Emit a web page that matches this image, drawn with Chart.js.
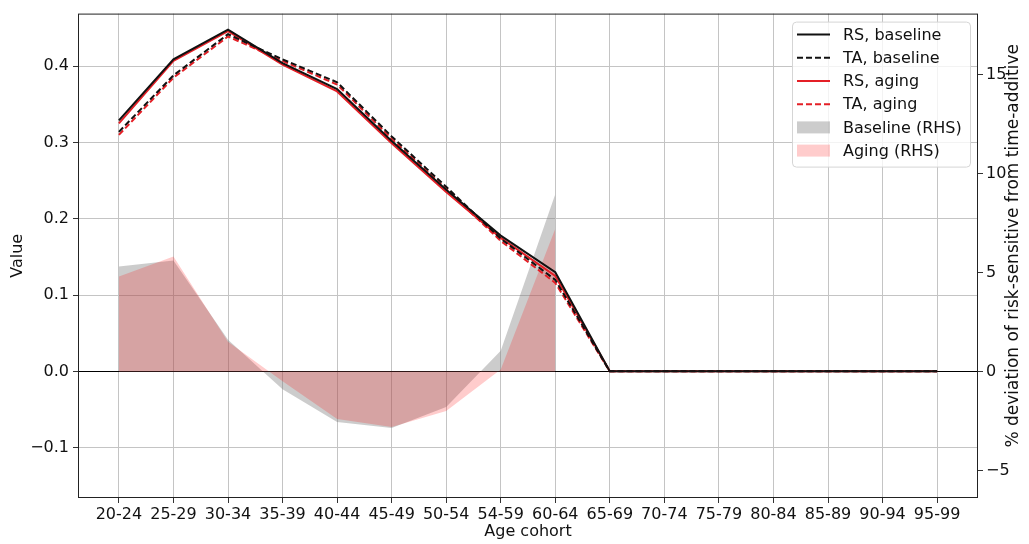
<!DOCTYPE html>
<html>
<head>
<meta charset="utf-8">
<script src="https://cdn.jsdelivr.net/npm/chart.js@4"></script>
<style>
  html, body { margin: 0; padding: 0; background: #fff; }
  #wrap { width: 1029px; height: 544px; }
</style>
</head>
<body>
<div id="wrap"><canvas id="myChart"></canvas></div>
<script>
// Data
const ageCohorts = ["20-24", "25-29", "30-34", "35-39", "40-44", "45-49", "50-54", "54-59",
  "60-64", "65-69", "70-74", "75-79", "80-84", "85-89", "90-94", "95-99"];
const rsBaseline = [0.329, 0.409, 0.448, 0.404, 0.370, 0.302, 0.238, 0.178, 0.130, 0, 0, 0, 0, 0, 0, 0];
const taBaseline = [0.314, 0.388, 0.442, 0.409, 0.379, 0.308, 0.242, 0.174, 0.120, 0, 0, 0, 0, 0, 0, 0];
const rsAging = [0.325, 0.407, 0.446, 0.402, 0.367, 0.299, 0.235, 0.175, 0.125, 0, 0, 0, 0, 0, 0, 0];
const taAging = [0.310, 0.385, 0.439, 0.407, 0.376, 0.305, 0.239, 0.171, 0.116, 0, 0, 0, 0, 0, 0, 0];
// % deviation of RS from TA (right axis), only up to 60-64
const devBaseline = [5.3, 5.6, 1.6, -0.9, -2.55, -2.85, -1.8, 1.05, 8.95];
const devAging = [4.8, 5.8, 1.5, -0.5, -2.4, -2.8, -2.0, 0.1, 7.2];
const valueTicks = [-0.1, 0, 0.1, 0.2, 0.3, 0.4];
const devTicks = [-5, 0, 5, 10, 15];
const rightTitle = "% deviation of risk-sensitive from time-additive";

const red = "#e41f26";
const toXY = (arr) => arr.map((v, i) => ({ x: i, y: v }));
const fmt = (v, d) => v.toFixed(d).replace("-", "\u2212");

Chart.defaults.font.family = "'DejaVu Sans', sans-serif";
Chart.defaults.font.size = 16;
Chart.defaults.color = "#111";

// frame, right axis title (reads bottom to top) and legend inside the plot
const framePlugin = {
  id: "frameLegend",
  afterDraw(chart) {
    const { ctx, chartArea: a } = chart;
    ctx.save();
    ctx.strokeStyle = "#222";
    ctx.lineWidth = 1;
    ctx.strokeRect(a.left + 0.5, a.top + 0.5, a.width - 1, a.height - 1);

    // right title
    ctx.save();
    ctx.translate(a.right + 36, (a.top + a.bottom) / 2 - 10);
    ctx.rotate(-Math.PI / 2);
    ctx.font = "17px 'DejaVu Sans', sans-serif";
    ctx.fillStyle = "#111";
    ctx.textAlign = "center";
    ctx.textBaseline = "middle";
    ctx.fillText(rightTitle, 0, 0);
    ctx.restore();

    const bx = a.right - 186, by = a.top + 8, bw = 178, bh = 145;
    ctx.beginPath();
    ctx.roundRect(bx + 0.5, by + 0.5, bw, bh, 4);
    ctx.fillStyle = "rgba(255,255,255,0.8)";
    ctx.fill();
    ctx.strokeStyle = "#d5d5d5";
    ctx.stroke();

    ctx.font = "16px 'DejaVu Sans', sans-serif";
    ctx.textBaseline = "middle";
    chart.data.datasets.forEach((ds, i) => {
      const y = by + 13 + i * 23.2;
      if (ds.fill) {
        ctx.fillStyle = ds.backgroundColor;
        ctx.fillRect(bx + 5, y - 6, 33, 12);
      } else {
        ctx.beginPath();
        ctx.setLineDash(ds.borderDash || []);
        ctx.strokeStyle = ds.borderColor;
        ctx.lineWidth = ds.borderWidth;
        ctx.moveTo(bx + 5, y);
        ctx.lineTo(bx + 38, y);
        ctx.stroke();
        ctx.setLineDash([]);
      }
      ctx.fillStyle = "#111";
      ctx.fillText(ds.label, bx + 51, y + 1);
    });
    ctx.restore();
  },
};

const ctx = document.getElementById("myChart").getContext("2d");
const myChart = new Chart(ctx, {
  type: "line",
  data: {
    datasets: [
      { label: "RS, baseline", data: toXY(rsBaseline), borderColor: "#111", borderWidth: 2, order: 0 },
      { label: "TA, baseline", data: toXY(taBaseline), borderColor: "#111", borderWidth: 2, borderDash: [6, 3], order: 0 },
      { label: "RS, aging", data: toXY(rsAging), borderColor: red, borderWidth: 2, order: 0 },
      { label: "TA, aging", data: toXY(taAging), borderColor: red, borderWidth: 2, borderDash: [6, 3], order: 0 },
      {
        label: "Baseline (RHS)", data: toXY(devBaseline), yAxisID: "y1",
        fill: "origin", backgroundColor: "rgba(128,128,128,0.4)",
        borderColor: "rgba(0,0,0,0)", borderWidth: 0, order: 2,
      },
      {
        label: "Aging (RHS)", data: toXY(devAging), yAxisID: "y1",
        fill: "origin", backgroundColor: "rgba(255,0,0,0.2)",
        borderColor: "rgba(0,0,0,0)", borderWidth: 0, order: 1,
      },
    ],
  },
  options: {
    responsive: true,
    maintainAspectRatio: false,
    animation: false,
    layout: { padding: { top: 4 } },
    elements: { point: { radius: 0 }, line: { tension: 0 } },
    plugins: { legend: { display: false }, tooltip: { enabled: false } },
    scales: {
      x: {
        type: "linear",
        min: -0.75,
        max: 15.75,
        afterBuildTicks: (s) => { s.ticks = ageCohorts.map((_, i) => ({ value: i })); },
        afterFit: (s) => { s.height = 46; },
        ticks: { autoSkip: false, maxRotation: 0, padding: 2, callback: (v) => ageCohorts[v] },
        grid: { color: "#c4c4c4", tickColor: "#333", tickLength: 5 },
        border: { display: false },
        title: { display: true, text: "Age cohort", padding: { top: 0, bottom: 3 } },
      },
      y: {
        position: "left",
        min: -0.166,
        max: 0.469,
        afterBuildTicks: (s) => { s.ticks = valueTicks.map((v) => ({ value: v })); },
        afterFit: (s) => { s.width = 78; },
        ticks: { padding: 4, callback: (v) => fmt(v, 1) },
        grid: {
          color: (c) => (c.tick && c.tick.value === 0 ? "#000" : "#c4c4c4"),
          tickColor: "#333",
          tickLength: 5,
        },
        border: { display: false },
        title: { display: true, text: "Value", padding: { top: 8, bottom: 0 } },
      },
      y1: {
        position: "right",
        min: -6.39,
        max: 18.07,
        afterBuildTicks: (s) => { s.ticks = devTicks.map((v) => ({ value: v })); },
        afterFit: (s) => { s.width = 51; },
        ticks: { padding: 3, callback: (v) => fmt(v, 0) },
        grid: { drawOnChartArea: false, tickColor: "#333", tickLength: 5 },
        border: { display: false },
        title: { display: false },
      },
    },
  },
  plugins: [framePlugin],
});
</script>
</body>
</html>
